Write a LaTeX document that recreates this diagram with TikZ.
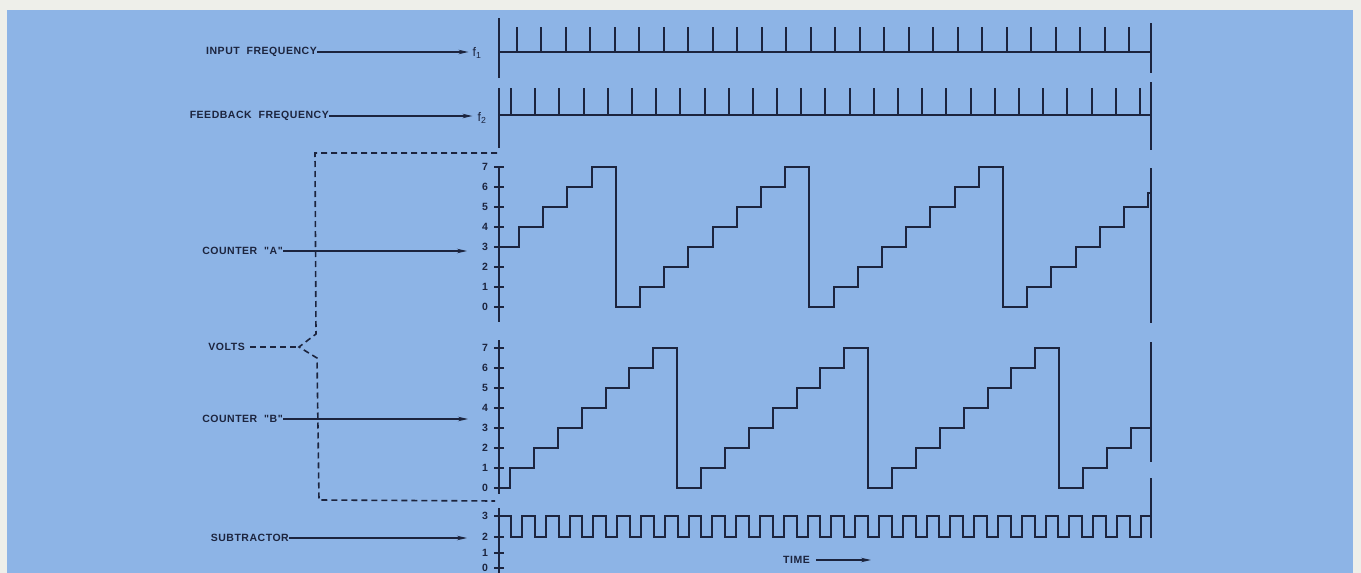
\documentclass[tikz,border=0pt]{standalone}
\usepackage{fontspec}
\setmainfont{Liberation Sans}
\newfontfamily\lbl{Liberation Sans}[LetterSpace=5.0]
\usetikzlibrary{arrows.meta}
\definecolor{bluebg}{RGB}{141,180,230}
\definecolor{paper}{RGB}{238,239,234}
\definecolor{ink}{RGB}{28,36,62}
\begin{document}
\begin{tikzpicture}[x=1pt,y=-1pt,
  wave/.style={draw=ink, line width=2pt},
  axis/.style={draw=ink, line width=2pt},
  tick/.style={draw=ink, line width=2pt},
  lead/.style={draw=ink, line width=1.2pt, -{Stealth[length=10pt,width=4.5pt]}},
  brk/.style={draw=ink, line width=1.6pt, dash pattern=on 6pt off 4pt},
  lab/.style={font=\lbl\bfseries\fontsize{10.5}{12}\selectfont, text=ink, inner sep=0pt},
  flab/.style={font=\lbl\fontsize{12.5}{14}\selectfont, text=ink, inner sep=0pt},
  num/.style={font=\lbl\bfseries\fontsize{10.5}{12}\selectfont, text=ink, inner sep=0pt}]
\useasboundingbox (0,0) rectangle (1361,573);
\fill[paper] (0,0) rectangle (1361,573);
\fill[bluebg] (7,10) rectangle (1353,573);

% ---------- labels ----------
\node[lab, anchor=east] (inp) at (317,52) {INPUT\ \ FREQUENCY};
\node[flab] (f1) at (477,53) {f\textsubscript{1}};
\node[lab, anchor=east] (fb) at (329,116) {FEEDBACK\ \ FREQUENCY};
\node[flab] (f2) at (482,118) {f\textsubscript{2}};
\node[lab, anchor=east] (ca) at (283,251) {COUNTER\ \ "A"};
\node[lab, anchor=east] (volts) at (245,347) {VOLTS};
\node[lab, anchor=east] (cb) at (283,419) {COUNTER\ \ "B"};
\node[lab, anchor=east] (sub) at (289,538) {SUBTRACTOR};
\node[lab, anchor=east] (time) at (810,560) {TIME};

\coordinate (aA) at (467,251);
\coordinate (aB) at (468,419);
\coordinate (aS) at (467,538);
\coordinate (aT) at (871,560);
\coordinate (tip) at (299,347);

\draw[lead, shorten >=4pt] (inp.east) -- (inp.east -| f1.west);
\draw[lead, shorten >=5pt] (fb.east) -- (fb.east -| f2.west);
\draw[lead] (ca.east) -- (aA);
\draw[lead] (cb.east) -- (aB);
\draw[lead] (sub.east) -- (aS);
\draw[lead, shorten <=6pt] (time.east) -- (aT);

% ---------- dashed bracket ----------
\draw[brk] (497,153) -- (315,153) -- (316,334) -- (tip) -- (317,358) -- (319,500) -- (495,501);
\draw[brk, shorten <=5pt] (volts.east) -- (tip);

% ---------- f1 row ----------
\draw[axis] (499,18) -- (499,78);
\draw[axis] (499,52) -- (1151,52);
\draw[axis] (1151,23) -- (1151,73);
\foreach \k in {0,...,25} \draw[tick] ({round(517+24.48*\k)},27) -- ({round(517+24.48*\k)},52);

% ---------- f2 row ----------
\draw[axis] (499,88) -- (499,148);
\draw[axis] (499,115) -- (1151,115);
\draw[axis] (1151,82) -- (1151,150);
\foreach \k in {0,...,26} \draw[tick] ({round(511+24.19*\k)},88) -- ({round(511+24.19*\k)},115);

% ---------- counter A ----------
\draw[axis] (499,166) -- (499,322);
\draw[axis] (1151,168) -- (1151,323);
\foreach \v in {0,...,7} {
  \draw[tick] (494,{307-20*\v}) -- (504,{307-20*\v});
  \node[num] (na\v) at (485,{307-20*\v}) {\v};
}
\draw[wave] (499,247) \foreach \k in {0,...,25} { -| ({round(519+24.2*\k)},{307-20*mod(4+\k,8)}) } -| (1148,193) -- (1151,193);

% ---------- counter B ----------
\draw[axis] (499,340) -- (499,494);
\draw[axis] (1151,342) -- (1151,462);
\foreach \v in {0,...,7} {
  \draw[tick] (494,{488-20*\v}) -- (504,{488-20*\v});
  \node[num] (nb\v) at (485,{488-20*\v}) {\v};
}
\draw[wave] (499,488) \foreach \k in {0,...,26} { -| ({round(510+23.88*\k)},{488-20*mod(1+\k,8)}) } -- (1151,428);

% ---------- subtractor ----------
\draw[axis] (499,508) -- (499,573);
\draw[axis] (1151,478) -- (1151,538);
\foreach \v/\y in {3/516,2/537,1/553,0/568} {
  \draw[tick] (494,\y) -- (504,\y);
  \node[num] (ns\v) at (485,\y) {\v};
}
\draw[wave] (499,516) \foreach \k in {0,...,26} { -| ({round(511+23.8*\k)},537) -| ({round(522+23.8*\k)},516) } -- (1151,516);
\end{tikzpicture}
\end{document}
